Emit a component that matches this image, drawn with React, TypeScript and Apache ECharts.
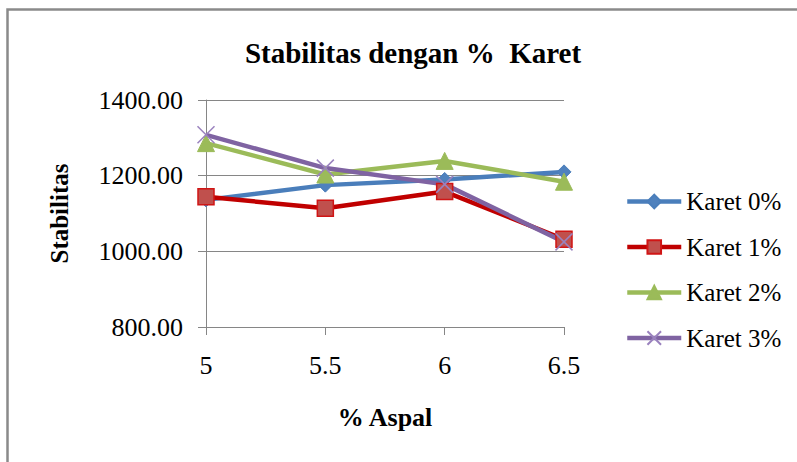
import React, { useEffect, useRef } from "react";
import * as echarts from "echarts";

const categories = ["5", "5.5", "6", "6.5"];
const seriesNames = ["Karet 0%", "Karet 1%", "Karet 2%", "Karet 3%"];
const karet0 = [1136, 1175, 1190, 1210];
const karet1 = [1144, 1114, 1158, 1032];
const karet2 = [1286, 1203, 1239, 1184];
const karet3 = [1308, 1220, 1177, 1025];
const yTicks = { min: 800, max: 1400, interval: 200 };

const FONT = "'Liberation Serif', 'Times New Roman', serif";
const CROSS = "path://M0,0L10,10M10,0L0,10";

export default function App() {
  const ref = useRef<HTMLDivElement>(null);
  useEffect(() => {
    document.body.style.margin = "0";
    const chart = echarts.init(ref.current!, null, { renderer: "svg" });
    const lineW = 4.5;
    chart.setOption({
      animation: false,
      backgroundColor: "#ffffff",
      title: {
        text: "Stabilitas dengan %  Karet",
        left: 408,
        top: 33,
        textAlign: "center",
        textStyle: { fontFamily: FONT, fontWeight: "bold", fontSize: 29, color: "#000" },
      },
      graphic: [
        {
          type: "rect",
          shape: { x: 7.5, y: 9.5, width: 900, height: 600 },
          style: { fill: "none", stroke: "#8a8a8a", lineWidth: 2.5 },
          silent: true,
          z: -1,
        },
      ],
      grid: { left: 206, top: 100, right: 233, bottom: 135, containLabel: false },
      legend: {
        orient: "vertical",
        left: 620,
        top: 184,
        itemWidth: 54,
        itemHeight: 17,
        itemGap: 20.5,
        lineStyle: { width: 4.5 },
        textStyle: { fontFamily: FONT, fontSize: 25, color: "#000", lineHeight: 24 },
        data: seriesNames,
      },
      xAxis: {
        type: "category",
        data: categories,
        boundaryGap: false,
        name: "% Aspal",
        nameLocation: "middle",
        nameGap: 77,
        nameTextStyle: { fontFamily: FONT, fontWeight: "bold", fontSize: 26, color: "#000" },
        axisLine: { show: true, lineStyle: { color: "#868686", width: 1 } },
        axisTick: { show: true, length: 8, lineStyle: { color: "#868686" } },
        axisLabel: { fontFamily: FONT, fontSize: 26, color: "#000", margin: 25 },
        splitLine: { show: false },
      },
      yAxis: {
        type: "value",
        min: yTicks.min,
        max: yTicks.max,
        interval: yTicks.interval,
        name: "Stabilitas",
        nameLocation: "middle",
        nameGap: 134,
        nameTextStyle: { fontFamily: FONT, fontWeight: "bold", fontSize: 25, color: "#000" },
        axisLine: { show: true, lineStyle: { color: "#868686", width: 1 } },
        axisTick: { show: true, length: 8, lineStyle: { color: "#868686" } },
        axisLabel: {
          fontFamily: FONT,
          fontSize: 26,
          color: "#000",
          margin: 23,
          formatter: (v: number) => v.toFixed(2),
        },
        splitLine: { show: true, lineStyle: { color: "#868686", width: 1 } },
      },
      series: [
        {
          name: seriesNames[0],
          type: "line",
          data: karet0,
          symbol: "diamond",
          symbolSize: 14,
          lineStyle: { color: "#4A7EBB", width: lineW },
          itemStyle: { color: "#4F81BD", borderColor: "#4A7EBB", borderWidth: 1 },
        },
        {
          name: seriesNames[1],
          type: "line",
          data: karet1,
          symbol: "rect",
          symbolSize: 16,
          lineStyle: { color: "#C00000", width: lineW },
          itemStyle: { color: "#C0504D", borderColor: "#D01515", borderWidth: 1.5 },
        },
        {
          name: seriesNames[2],
          type: "line",
          data: karet2,
          symbol: "triangle",
          symbolSize: 17,
          lineStyle: { color: "#9BBB59", width: lineW },
          itemStyle: { color: "#9BBB59", borderColor: "#9BBB59", borderWidth: 1 },
        },
        {
          name: seriesNames[3],
          type: "line",
          data: karet3,
          symbol: CROSS,
          symbolSize: 17,
          lineStyle: { color: "#7F63A2", width: lineW },
          itemStyle: { color: "none", borderColor: "#9A82BE", borderWidth: 1.5 },
        },
      ],
    });
    return () => chart.dispose();
  }, []);
  return <div ref={ref} style={{ width: 797, height: 462 }} />;
}
